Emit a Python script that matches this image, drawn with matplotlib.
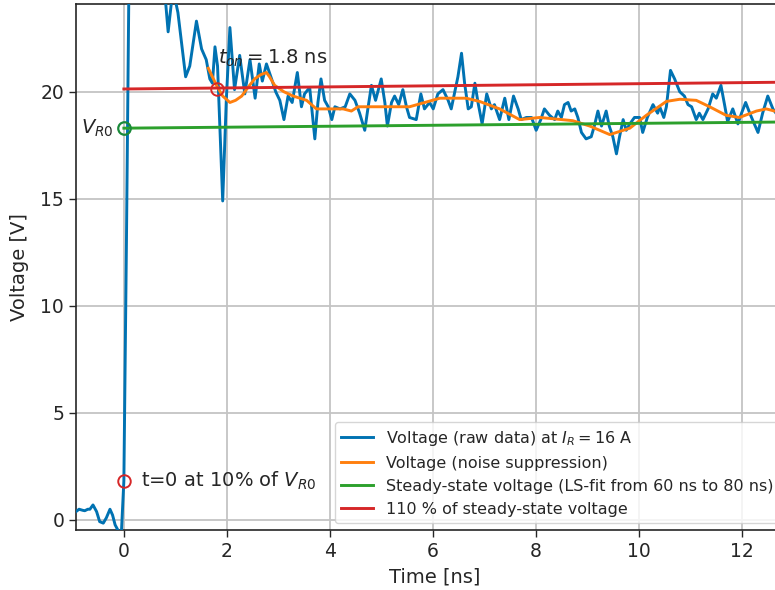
import numpy as np
import matplotlib
matplotlib.use("Agg")
import matplotlib.pyplot as plt

# raw voltage trace (ns, V)
t_raw = [-0.93, -0.87, -0.80, -0.76, -0.70, -0.66, -0.60, -0.53, -0.47, -0.40, -0.34, -0.27,
         -0.22, -0.17, -0.11, -0.05, 0.00, 0.05, 0.10, 0.20, 0.40, 0.60, 0.75,
         0.80, 0.86, 0.93, 0.98, 1.05, 1.12, 1.20, 1.28, 1.41, 1.51, 1.60, 1.67, 1.72, 1.77,
         1.82, 1.87, 1.92, 1.99, 2.06, 2.15, 2.25, 2.35, 2.45, 2.55, 2.63, 2.69, 2.77, 2.87,
         2.95, 3.03, 3.11, 3.19, 3.27, 3.37, 3.45, 3.51, 3.61, 3.71, 3.77, 3.83, 3.90, 3.97,
         4.04, 4.10, 4.20, 4.30, 4.39, 4.49, 4.58, 4.68, 4.74, 4.81, 4.89, 5.00, 5.07, 5.12,
         5.20, 5.26, 5.34, 5.42, 5.49, 5.55, 5.68, 5.77, 5.84, 5.94, 6.01, 6.10, 6.20, 6.30,
         6.36, 6.49, 6.56, 6.62, 6.69, 6.75, 6.82, 6.88, 6.96, 7.05, 7.14, 7.20, 7.30, 7.40,
         7.48, 7.57, 7.66, 7.72, 7.82, 7.92, 8.01, 8.10, 8.17, 8.27, 8.37, 8.43, 8.50, 8.56,
         8.63, 8.69, 8.76, 8.82, 8.89, 8.98, 9.08, 9.14, 9.21, 9.28, 9.37, 9.43, 9.50, 9.57,
         9.63, 9.70, 9.76, 9.83, 9.92, 10.02, 10.08, 10.17, 10.28, 10.37, 10.41, 10.49, 10.54,
         10.62, 10.70, 10.80, 10.89, 10.96, 11.03, 11.12, 11.18, 11.25, 11.35, 11.44, 11.51,
         11.60, 11.67, 11.73, 11.83, 11.93, 12.00, 12.08, 12.16, 12.23, 12.32, 12.41, 12.51,
         12.61, 12.70, 12.93]
v_raw = [0.39, 0.50, 0.45, 0.43, 0.50, 0.50, 0.70, 0.39, -0.08, -0.15, 0.10, 0.50,
         0.23, -0.23, -0.50, -0.70, 1.83, 13.0, 25.5, 28.0, 29.0, 27.0, 25.2,
         24.5, 22.8, 24.3, 24.5, 23.7, 22.3, 20.7, 21.2, 23.3, 22.0, 21.5, 20.6, 20.4, 22.1,
         21.2, 18.0, 14.9, 19.6, 23.0, 20.1, 21.7, 19.9, 21.5, 19.7, 21.3, 20.5, 21.3, 20.6,
         20.0, 19.6, 18.7, 19.8, 19.5, 20.9, 19.3, 19.9, 20.2, 17.8, 19.5, 20.6, 19.6, 19.3,
         18.7, 19.3, 19.2, 19.3, 19.9, 19.6, 19.0, 18.2, 19.2, 20.3, 19.6, 20.6, 19.5, 18.4,
         19.5, 19.8, 19.4, 20.1, 19.3, 18.8, 18.7, 19.9, 19.2, 19.5, 19.2, 19.9, 20.1, 19.6,
         19.2, 20.7, 21.8, 20.4, 19.2, 19.3, 20.4, 19.5, 18.5, 19.9, 19.2, 19.4, 18.7, 19.7,
         18.7, 19.8, 19.2, 18.7, 18.8, 18.8, 18.2, 18.7, 19.2, 18.9, 18.7, 19.1, 18.8, 19.4,
         19.5, 19.1, 19.2, 18.8, 18.1, 17.8, 17.9, 18.4, 19.1, 18.4, 19.1, 18.4, 17.9, 17.1,
         17.9, 18.7, 18.2, 18.5, 18.8, 18.8, 18.1, 18.8, 19.4, 19.0, 19.3, 18.8, 19.3,
         21.0, 20.6, 20.0, 19.8, 19.4, 19.3, 18.7, 19.0, 18.7, 19.2, 19.9, 19.7,
         20.3, 19.4, 18.6, 19.2, 18.5, 19.0, 19.5, 19.0, 18.6, 18.1, 19.0, 19.8,
         19.2, 18.9, 19.3]

# noise-suppressed voltage
t_smooth = [1.64, 1.80, 1.92, 2.06, 2.17, 2.29, 2.41, 2.54, 2.66, 2.77, 2.83, 2.93, 3.11,
            3.29, 3.55, 3.74, 3.94, 4.26, 4.42, 4.55, 5.03, 5.55, 6.14, 6.65, 6.91, 7.30,
            7.69, 8.08, 8.72, 9.05, 9.44, 9.83, 10.15, 10.54, 10.80, 11.12, 11.38, 11.70,
            11.96, 12.29, 12.48, 12.64, 12.93]
v_smooth = [21.1, 20.3, 19.8, 19.5, 19.6, 19.8, 20.2, 20.6, 20.8, 20.9, 20.7, 20.3, 20.0,
            19.8, 19.6, 19.2, 19.2, 19.2, 19.1, 19.3, 19.3, 19.3, 19.7, 19.7, 19.55, 19.2,
            18.7, 18.8, 18.65, 18.4, 18.0, 18.3, 18.9, 19.55, 19.65, 19.6, 19.3, 18.9,
            18.8, 19.1, 19.2, 19.1, 19.0]

# steady-state fit (LS-fit 60..80 ns)
t_fit = [0.0, 80.0]
v_fit = [18.30, 20.10]
factor_110 = 1.10

t_start, v_start = 0.0, 1.83
t_on, v_on = 1.8, 20.15
v_r0 = 18.30

blue = '#0072B2'
orange = '#ff7f0e'
green = '#2ca02c'
red = '#d62728'
txt = '#262626'

plt.rcParams['font.size'] = 13.5
fig = plt.figure(figsize=(7.75, 5.9), dpi=100)
ax = fig.add_axes([76/775, 60/590, 717/775, 526/590])

ax.grid(True, color='#c4c4c4', linewidth=1.3, zorder=0)
ax.set_axisbelow(True)

ax.plot(t_raw, v_raw, color=blue, lw=2.1, label=r'Voltage (raw data) at $I_R = 16$ A', zorder=3)
ax.plot(t_smooth, v_smooth, color=orange, lw=2.1, label='Voltage (noise suppression)', zorder=4)
ax.plot(t_fit, v_fit, color=green, lw=2.1,
        label='Steady-state voltage (LS-fit from 60 ns to 80 ns)', zorder=4)
ax.plot(t_fit, [v * factor_110 for v in v_fit], color=red, lw=2.1,
        label='110 % of steady-state voltage', zorder=4)

ax.plot([t_start], [v_start], 'o', mfc='none', mec=red, ms=9, mew=1.4, zorder=5)
ax.plot([t_on], [v_on], 'o', mfc='none', mec=red, ms=9, mew=1.4, zorder=5)
ax.plot([0.0], [v_r0], 'o', mfc='none', mec='#1a8a3a', ms=9, mew=1.6, zorder=5)

ax.text(0.33, v_start, r't=0 at 10% of $V_{R0}$', ha='left', va='center', fontsize=14, color=txt)
ax.text(-0.2, v_r0, r'$V_{R0}$', ha='right', va='center', fontsize=14, color=txt)
ax.text(1.83, 21.05, r'$t_{on} = 1.8$ ns', ha='left', va='bottom', fontsize=14, color=txt)

ax.set_xlim(-0.93, 13.0)
ax.set_ylim(-0.47, 24.1)
ax.set_xticks([0, 2, 4, 6, 8, 10, 12])
ax.set_yticks([0, 5, 10, 15, 20])
ax.set_xlabel('Time [ns]', color=txt, fontsize=14, labelpad=5)
ax.set_ylabel('Voltage [V]', color=txt, fontsize=14, labelpad=8.5)
ax.tick_params(colors=txt, length=5, width=1.0, labelsize=13.5)
for s in ax.spines.values():
    s.set_color(txt)
    s.set_linewidth(1.2)

leg = ax.legend(loc='lower left', bbox_to_anchor=(335/775, 67/590),
                bbox_transform=fig.transFigure, fontsize=11.5, framealpha=0.8,
                edgecolor='#cccccc', handlelength=2.0, borderaxespad=0.0)
for tx in leg.get_texts():
    tx.set_color(txt)

fig.savefig('out.png', dpi=100)
